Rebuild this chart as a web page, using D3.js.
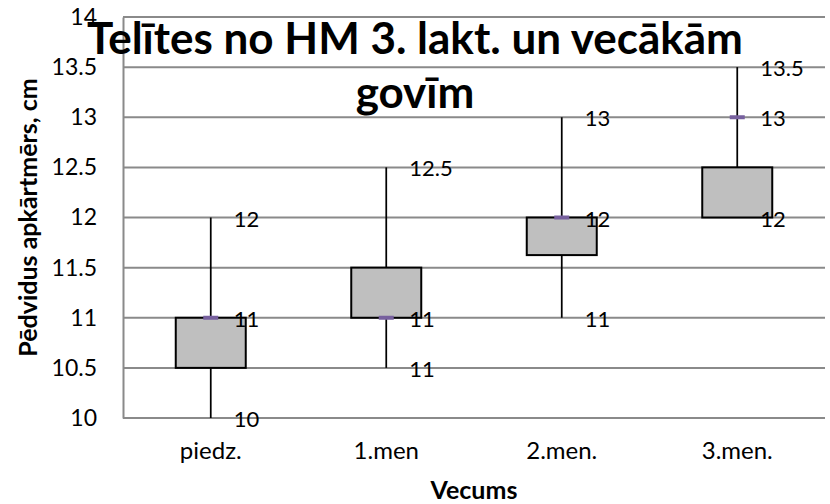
<!DOCTYPE html>
<html>
<head>
<meta charset="utf-8">
<script src="https://cdn.jsdelivr.net/npm/d3@7"></script>
<style>
  body { margin: 0; background: #fff; }
  svg { display: block; font-family: Lato, "Open Sans", sans-serif; }
</style>
</head>
<body>
<div id="container"></div>
<script>
// data
const categories = ['piedz.', '1.men', '2.men.', '3.men.'];
const lowValues = [10, 10.5, 11, 12];
const boxBottom = [10.5, 11, 11.625, 12];
const boxTop = [11, 11.5, 12, 12.5];
const highValues = [12, 12.5, 13, 13.5];
const medianValues = [11, 11, 12, 13];
const highLabels = ['12', '12.5', '13', '13.5'];
const medianLabels = ['11', '11', '12', '13'];
const lowLabels = ['10', '11', '11', '12'];
const yTicks = [10, 10.5, 11, 11.5, 12, 12.5, 13, 13.5, 14];

const rows = categories.map((c, i) => ({
    cat: c, low: lowValues[i], q1: boxBottom[i], q3: boxTop[i],
    high: highValues[i], med: medianValues[i],
    hl: highLabels[i], ml: medianLabels[i], ll: lowLabels[i]
}));

const W = 830, H = 504;
const margin = { top: 17, right: 5, bottom: 86, left: 123 };
const width = W - margin.left - margin.right;
const height = H - margin.top - margin.bottom;

const svg = d3.select('#container').append('svg')
    .attr('width', W)
    .attr('height', H);

const g = svg.append('g')
    .attr('transform', `translate(${margin.left},${margin.top})`);

const x = d3.scaleBand().domain(categories).range([0, width]);
const y = d3.scaleLinear().domain([10, 14]).range([height, 0]);

// gridlines
g.selectAll('.grid')
    .data(yTicks)
    .enter()
    .append('line')
    .attr('x1', 0)
    .attr('x2', width)
    .attr('y1', d => y(d))
    .attr('y2', d => y(d))
    .attr('stroke', '#8a8a8a')
    .attr('stroke-width', 2);

// y axis
const yAxis = g.append('g')
    .call(d3.axisLeft(y).tickValues(yTicks).tickSize(0).tickPadding(26)
        .tickFormat(d3.format('~g')));
yAxis.select('.domain').attr('stroke', '#8a8a8a').attr('stroke-width', 2);
yAxis.selectAll('text')
    .attr('font-family', 'Lato, sans-serif')
    .attr('font-size', 23)
    .attr('fill', '#000');

// x axis
const xAxis = g.append('g')
    .attr('transform', `translate(0,${height})`)
    .call(d3.axisBottom(x).tickSize(0).tickPadding(24));
xAxis.select('.domain').remove();
xAxis.selectAll('text')
    .attr('font-family', 'Lato, sans-serif')
    .attr('font-size', 24)
    .attr('fill', '#000');

const cx = d => x(d.cat) + x.bandwidth() / 2;
const boxW = 70;

// whiskers
g.selectAll('.whisker')
    .data(rows)
    .enter()
    .append('line')
    .attr('x1', cx)
    .attr('x2', cx)
    .attr('y1', d => y(d.low))
    .attr('y2', d => y(d.high))
    .attr('stroke', '#000')
    .attr('stroke-width', 1.75);

// boxes
g.selectAll('.box')
    .data(rows)
    .enter()
    .append('rect')
    .attr('x', d => cx(d) - boxW / 2)
    .attr('y', d => y(d.q3))
    .attr('width', boxW)
    .attr('height', d => y(d.q1) - y(d.q3))
    .attr('fill', '#bfbfbf')
    .attr('stroke', '#000')
    .attr('stroke-width', 2);

// median marks
g.selectAll('.median')
    .data(rows)
    .enter()
    .append('rect')
    .attr('x', d => cx(d) - 7.5)
    .attr('y', d => y(d.med) - 2)
    .attr('width', 15)
    .attr('height', 4)
    .attr('fill', '#77609e');

// data labels
const labelSets = [['high', 'hl'], ['med', 'ml'], ['low', 'll']];
labelSets.forEach(([v, t]) => {
    g.selectAll('.lbl-' + v)
        .data(rows)
        .enter()
        .append('text')
        .attr('x', d => cx(d) + 23)
        .attr('y', d => y(d[v]) + 9)
        .attr('font-size', 22)
        .text(d => d[t]);
});

// title
const title = svg.append('text')
    .attr('text-anchor', 'middle')
    .attr('font-size', 44)
    .attr('font-weight', 'bold');
title.append('tspan').attr('x', 415).attr('y', 54).text('Telītes no HM 3. lakt. un vecākām');
title.append('tspan').attr('x', 415).attr('y', 108).text('govīm');

// axis titles
svg.append('text')
    .attr('transform', `translate(37,${margin.top + height / 2}) rotate(-90)`)
    .attr('text-anchor', 'middle')
    .attr('font-size', 25)
    .attr('font-weight', 'bold')
    .text('Pēdvidus apkārtmērs, cm');

svg.append('text')
    .attr('x', margin.left + width / 2)
    .attr('y', 499)
    .attr('text-anchor', 'middle')
    .attr('font-size', 25)
    .attr('font-weight', 'bold')
    .text('Vecums');
</script>
</body>
</html>
